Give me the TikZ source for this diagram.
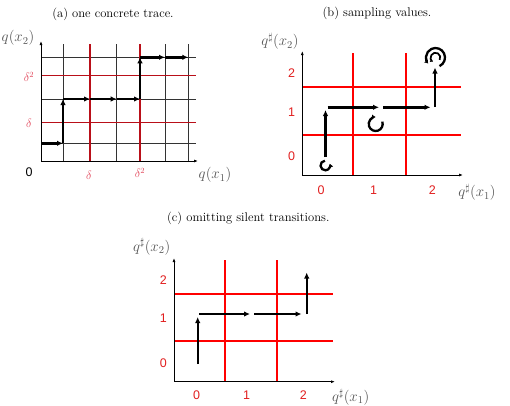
\RequirePackage{fix-cm}
\documentclass[tikz,border=0pt]{standalone}
\usepackage{fontspec}
\newfontfamily\arialfont{Liberation Sans}
\usetikzlibrary{arrows.meta}
\definecolor{gridred}{RGB}{185,15,25}
\definecolor{pinkred}{RGB}{225,70,90}
\definecolor{brightred}{RGB}{255,0,0}
\definecolor{numred}{RGB}{225,30,30}
\definecolor{labgray}{RGB}{85,85,85}
\tikzset{
  title/.style={font=\fontsize{12.6}{14}\selectfont},
  axlab/.style={text=labgray,font=\fontsize{15}{17}\selectfont,inner sep=1pt},
  dlab/.style={text=pinkred,font=\fontsize{12}{14}\selectfont},
  numlab/.style={text=numred,font=\arialfont\fontsize{12.5}{14}\selectfont},
  axisline/.style={line width=0.9pt,black,-{Latex[length=4pt,width=3pt]}},
  gridblack/.style={line width=0.7pt,black!80},
  gridredline/.style={line width=1.4pt,gridred},
  redline/.style={line width=2pt,brightred},
  trace/.style={line width=2.4pt,black,-{Latex[length=6pt,width=5.5pt]}},
  loopline/.style={line width=2.3pt,black,-{Latex[length=3.5pt,width=5pt]}},
}
\begin{document}
\begin{tikzpicture}[x=1pt,y=-1pt]
\useasboundingbox (0,0) rectangle (510,405);
% ---------------- panel (a)
\node[title] (ta) at (113,14) {(a) one concrete trace.};
\foreach \x in {63,116.7,165,188.3} \draw[gridblack] (\x,44) -- (\x,161);
\foreach \y in {57.3,99,143.3} \draw[gridblack] (41,\y) -- (196,\y);
\foreach \x in {90,140} \draw[gridredline] (\x,44) -- (\x,161);
\foreach \y in {75.7,122.3} \draw[gridredline] (41,\y) -- (196,\y);
\coordinate (aO) at (41,161);
\coordinate (aY) at (41,41);
\coordinate (aX) at (198,161);
\draw[axisline] (aO) -- (aY);
\draw[axisline] (aO) -- (aX);
\coordinate (t0) at (41,143.3);
\coordinate (t1) at (63,143.3);
\coordinate (t2) at (63,99);
\coordinate (t3) at (90,99);
\coordinate (t4) at (116.7,99);
\coordinate (t5) at (140,99);
\coordinate (t6) at (140,57.3);
\coordinate (t7) at (165,57.3);
\coordinate (t8) at (188.3,57.3);
\draw[trace] (t0) -- (t1);
\draw[trace] (t1) -- (t2);
\draw[trace] (t2) -- (t3);
\draw[trace] (t3) -- (t4);
\draw[trace] (t4) -- (t5);
\draw[trace] (t5) -- (t6);
\draw[trace] (t6) -- (t7);
\draw[trace] (t7) -- (t8);
\node[axlab] (aqy) at (18,38) {$q(x_2)$};
\node[axlab] (aqx) at (215,175) {$q(x_1)$};
\node[dlab] (ad2) at (29,77) {$\delta^2$};
\node[dlab] (ad1) at (29,123) {$\delta$};
\node[font=\arialfont\fontsize{12.5}{14}\selectfont] (a0) at (29,172.5) {0};
\node[dlab] (ax1) at (89,175) {$\delta$};
\node[dlab] (ax2) at (140,173) {$\delta^2$};
% ---------------- panel (b)
\node[title] (tb) at (377,13.5) {(b) sampling values.};
\foreach \x in {353.3,405.7} \draw[redline] (\x,53) -- (\x,175);
\foreach \y in {87.3,135} \draw[redline] (302.3,\y) -- (461,\y);
\coordinate (bO) at (302.3,175);
\coordinate (bY) at (302.3,51);
\coordinate (bX) at (463,175);
\draw[axisline] (bO) -- (bY);
\draw[axisline] (bO) -- (bX);
\node[axlab] (bqy) at (280,41.5) {$q^\sharp(x_2)$};
\node[axlab] (bqx) at (477,192.5) {$q^\sharp(x_1)$};
\node[numlab] (by2) at (291.7,72.7) {2};
\node[numlab] (by1) at (291.7,111.7) {1};
\node[numlab] (by0) at (291.7,156) {0};
\node[numlab] (bx0) at (321,190) {0};
\node[numlab] (bx1) at (373.7,190) {1};
\node[numlab] (bx2) at (432.3,190) {2};
\coordinate (b1s) at (325.5,157);
\coordinate (b1e) at (325.5,110);
\coordinate (b2s) at (327.5,107.3);
\coordinate (b2e) at (379,107.3);
\coordinate (b3s) at (383.3,107.3);
\coordinate (b3e) at (430.5,107.3);
\coordinate (b4s) at (435,107);
\coordinate (b4e) at (435,67.5);
\draw[trace] (b1s) -- (b1e);
\draw[trace] (b2s) -- (b2e);
\draw[trace] (b3s) -- (b3e);
\draw[trace] (b4s) -- (b4e);
% loops (explicit pt units: standard orientation)
\coordinate (l1) at (325.3,165.5);
\coordinate (l2) at (375.7,124);
\coordinate (l3) at (435.5,57.5);
\draw[loopline] ([shift={(95:4.8pt)}]l1) arc[start angle=95,delta angle=285,radius=4.8pt];
\draw[loopline] ([shift={(20:7pt)}]l2) arc[start angle=20,delta angle=-290,radius=7pt];
\draw[loopline] ([shift={(295:9.5pt)}]l3) arc[start angle=295,delta angle=285,radius=9.5pt];
\draw[line width=1.7pt,black,-{Latex[length=2.8pt,width=4pt]}] ([shift={(330:4.8pt)}]l3) arc[start angle=330,delta angle=270,radius=4.8pt];
% ---------------- panel (c)
\node[title] (tc) at (248.3,218) {(c) omitting silent transitions.};
\foreach \x in {225,276.7} \draw[redline] (\x,260) -- (\x,381.7);
\foreach \y in {293.6,341.3} \draw[redline] (174,\y) -- (333,\y);
\coordinate (cO) at (174,381.7);
\coordinate (cY) at (174,258);
\coordinate (cX) at (335,381.7);
\draw[axisline] (cO) -- (cY);
\draw[axisline] (cO) -- (cX);
\node[axlab] (cqy) at (151.7,246.5) {$q^\sharp(x_2)$};
\node[axlab] (cqx) at (350.7,397) {$q^\sharp(x_1)$};
\node[numlab] (cy2) at (163.3,280) {2};
\node[numlab] (cy1) at (163.3,318.3) {1};
\node[numlab] (cy0) at (163.3,363) {0};
\node[numlab] (cx0) at (196.7,395) {0};
\node[numlab] (cx1) at (246.7,395) {1};
\node[numlab] (cx2) at (303.3,395) {2};
\coordinate (c1s) at (197.7,364);
\coordinate (c1e) at (197.7,317);
\coordinate (c2s) at (199.3,314);
\coordinate (c2e) at (250,314);
\coordinate (c3s) at (254,314);
\coordinate (c3e) at (301.5,314);
\coordinate (c4s) at (306.7,314);
\coordinate (c4e) at (306.7,272.5);
\draw[trace] (c1s) -- (c1e);
\draw[trace] (c2s) -- (c2e);
\draw[trace] (c3s) -- (c3e);
\draw[trace] (c4s) -- (c4e);
\end{tikzpicture}
\end{document}
